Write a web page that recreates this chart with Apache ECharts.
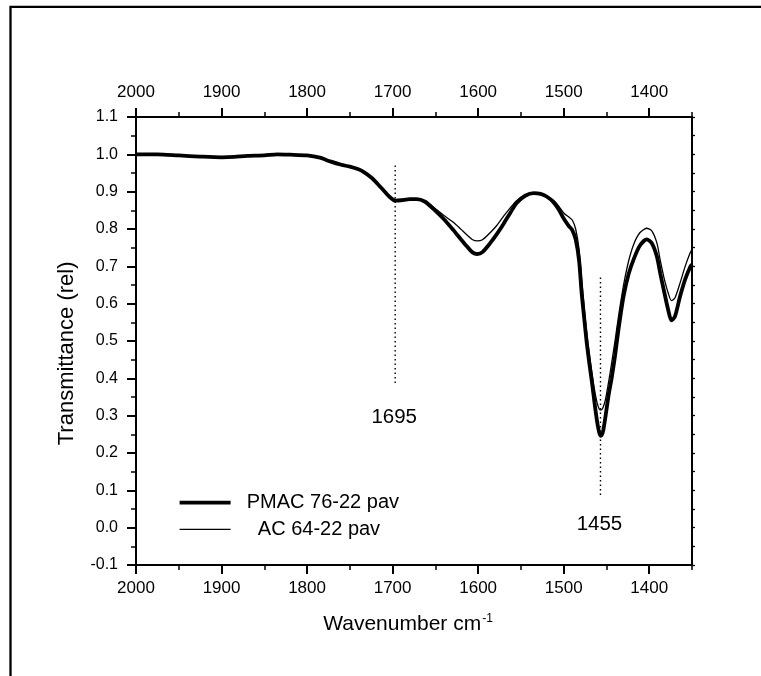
<!DOCTYPE html>
<html><head><meta charset="utf-8">
<script src="https://cdn.jsdelivr.net/npm/echarts@6/dist/echarts.min.js"></script>
<style>html,body{margin:0;padding:0;background:#fff}#c{width:761px;height:676px}</style>
</head><body><div id="c"></div>
<script>
// ---- data ----
const wavenumbers = [2000,1975,1950,1925,1900,1885,1870,1850,1835,1820,1800,1785,1773,1760,1750,1740,1734,1725,1718,1710,1703,1697,1690,1680,1672,1662,1652,1640,1629,1620,1613,1607,1601,1595,1586,1578,1570,1562,1555,1545,1535,1527,1520,1512,1506,1500,1494,1490,1486,1482,1479,1476,1473,1470,1467,1464,1461,1458.5,1456.5,1454,1451,1447.5,1444,1440,1436,1430,1424,1418,1411,1403,1397,1391,1387,1383,1378,1374,1370,1364,1358,1352,1350];
const pmac = [1.000,1.000,0.997,0.994,0.992,0.993,0.996,0.997,1.000,0.999,0.997,0.991,0.981,0.972,0.967,0.960,0.953,0.938,0.922,0.902,0.885,0.876,0.877,0.880,0.880,0.873,0.853,0.826,0.797,0.772,0.753,0.738,0.733,0.738,0.762,0.787,0.815,0.845,0.870,0.889,0.896,0.894,0.887,0.872,0.853,0.828,0.808,0.797,0.772,0.715,0.628,0.560,0.494,0.440,0.390,0.335,0.285,0.255,0.246,0.258,0.300,0.355,0.400,0.460,0.530,0.620,0.680,0.720,0.755,0.772,0.762,0.726,0.680,0.637,0.585,0.555,0.565,0.619,0.665,0.699,0.705];
const ac = [1.000,1.000,0.997,0.994,0.992,0.993,0.996,0.997,1.000,0.999,0.997,0.991,0.981,0.972,0.967,0.960,0.953,0.938,0.922,0.902,0.885,0.876,0.877,0.880,0.880,0.875,0.858,0.836,0.818,0.799,0.784,0.772,0.768,0.771,0.790,0.810,0.835,0.858,0.876,0.891,0.897,0.895,0.889,0.877,0.862,0.843,0.832,0.824,0.800,0.745,0.665,0.590,0.520,0.465,0.415,0.370,0.335,0.318,0.315,0.322,0.345,0.390,0.440,0.500,0.565,0.650,0.715,0.760,0.790,0.802,0.795,0.762,0.715,0.672,0.630,0.608,0.615,0.655,0.700,0.737,0.745];
const seriesNames = ['PMAC 76-22 pav', 'AC 64-22 pav'];
const xTickLabels = [2000,1900,1800,1700,1600,1500,1400];
const xMin = 1350, xMax = 2000;
const yMin = -0.1, yMax = 1.1;
const peakLabels = ['1695', '1455'];
const peakWn = [1697, 1457];
const peakTop = [0.970, 0.670];
const peakBottom = [0.382, 0.085];
const xTitle = 'Wavenumber cm';
const xTitleSup = '-1';
const yTitle = 'Transmittance (rel)';

// ---- layout ----
const W = 761, H = 676;
const P = {left:136, right:692, top:117, bottom:565};
const FONT = '"Liberation Sans", Arial, Helvetica, sans-serif';
const x1400 = P.left + (xMax - 1400) / (xMax - xMin) * (P.right - P.left);
const lineWidths = [3.8, 1.3];

const chart = echarts.init(document.getElementById('c'), null, {renderer:'canvas'});
const black = '#000';
function xLabel(margin){
  return {show:true, color:black, fontSize:17, fontFamily:FONT, margin:margin,
    formatter: v => xTickLabels.indexOf(v) >= 0 ? String(v) : ''};
}
function xAxisMain(pos, margin){
  return {
    type:'value', gridIndex:0, position:pos, inverse:true, min:xMin, max:xMax, interval:50,
    splitLine:{show:false},
    axisLine:{show:true, onZero:false, lineStyle:{color:black, width:2}},
    axisTick:{show:true, inside:false, length:5, lineStyle:{color:black, width:1.5}},
    axisLabel:xLabel(margin)
  };
}
function longTickAxis(pos){
  return {
    type:'value', gridIndex:1, position:pos, inverse:true, min:1400, max:xMax, interval:100,
    splitLine:{show:false}, axisLine:{show:false, onZero:false},
    axisTick:{show:true, inside:false, length:9, lineStyle:{color:black, width:2}},
    axisLabel:{show:false}
  };
}
const pairs = arr => wavenumbers.map((w,i) => [w, arr[i]]);

const series = [
  {name:seriesNames[0], type:'line', data:pairs(pmac), symbol:'none', smooth:0.25,
   lineStyle:{color:black, width:lineWidths[0]}, itemStyle:{color:black}, z:3},
  {name:seriesNames[1], type:'line', data:pairs(ac), symbol:'none', smooth:0.25,
   lineStyle:{color:black, width:lineWidths[1]}, itemStyle:{color:black}, z:4}
];
peakWn.forEach((w,i) => {
  series.push({name:'peak'+i, type:'line', symbol:'none', silent:true,
    data:[[w, peakTop[i]], [w, peakBottom[i]]],
    lineStyle:{color:black, width:1.4, type:[1.5,3]}, z:2});
});

chart.setOption({
  animation:false,
  backgroundColor:'#fff',
  grid:[
    {left:P.left, right:W-P.right, top:P.top, bottom:H-P.bottom, outerBoundsMode:'none', containLabel:false},
    {left:P.left, right:W-x1400, top:P.top, bottom:H-P.bottom, outerBoundsMode:'none', containLabel:false}
  ],
  xAxis:[
    xAxisMain('bottom', 15),
    xAxisMain('top', 16),
    longTickAxis('bottom'),
    longTickAxis('top')
  ],
  yAxis:[
    {type:'value', gridIndex:0, position:'left', min:yMin, max:yMax, interval:0.1,
     splitLine:{show:false},
     axisLine:{show:true, onZero:false, lineStyle:{color:black, width:2}},
     axisTick:{show:true, inside:false, length:9, lineStyle:{color:black, width:2}},
     minorTick:{show:true, splitNumber:2, length:5, lineStyle:{color:black, width:1.5}},
     axisLabel:{color:black, fontSize:16, fontFamily:FONT, margin:18, formatter: v => v.toFixed(1)}},
    {type:'value', gridIndex:0, position:'right', min:yMin, max:yMax, interval:0.05,
     splitLine:{show:false},
     axisLine:{show:true, onZero:false, lineStyle:{color:black, width:2}},
     axisTick:{show:true, inside:false, length:3, lineStyle:{color:black, width:1.3}},
     axisLabel:{show:false}},
    {type:'value', gridIndex:1, min:yMin, max:yMax, show:false}
  ],
  legend:{
    data:seriesNames.map((n,i) => ({name:n, lineStyle:{color:black, width:lineWidths[i]}})),
    orient:'vertical', left:172.7, top:487.7,
    itemWidth:51, itemHeight:14, itemGap:6.6, selectedMode:false,
    itemStyle:{opacity:0},
    textStyle:{color:black, fontSize:20, lineHeight:20, fontFamily:FONT},
    formatter: n => (n === seriesNames[0] ? '\u00a0\u00a0' : '\u00a0\u00a0\u00a0\u00a0') + n
  },
  series:series
});

// annotation texts placed relative to the dotted lines (data -> pixel)
const annOffset = [32, 28.5];
const graphics = [
  {type:'polyline', silent:true, shape:{points:[[10.5,H],[10.5,6.8],[W,6.8]]},
   style:{stroke:black, lineWidth:2.3, fill:null}},
  {type:'text', x:67, y:353.4, rotation:Math.PI/2, silent:true,
   style:{text:yTitle, fontSize:22, fontFamily:FONT, fill:black, align:'center', verticalAlign:'middle'}},
  {type:'text', x:408, y:624, silent:true,
   style:{text:'{a|' + xTitle + '}{b|' + xTitleSup + '}', align:'center', verticalAlign:'middle',
     rich:{a:{fontSize:21, fontFamily:FONT, fill:black, color:black},
           b:{fontSize:12, fontFamily:FONT, fill:black, color:black, verticalAlign:'top', padding:[0,0,10,1]}}}}
];
peakWn.forEach((w,i) => {
  const p = chart.convertToPixel({xAxisIndex:0, yAxisIndex:0}, [w, peakBottom[i]]);
  graphics.push({type:'text', x:p[0]-1, y:p[1]+annOffset[i], silent:true,
    style:{text:peakLabels[i], fontSize:20.5, fontFamily:FONT, fill:black, align:'center', verticalAlign:'middle'}});
});
chart.setOption({graphic:graphics});
</script>
</body></html>
